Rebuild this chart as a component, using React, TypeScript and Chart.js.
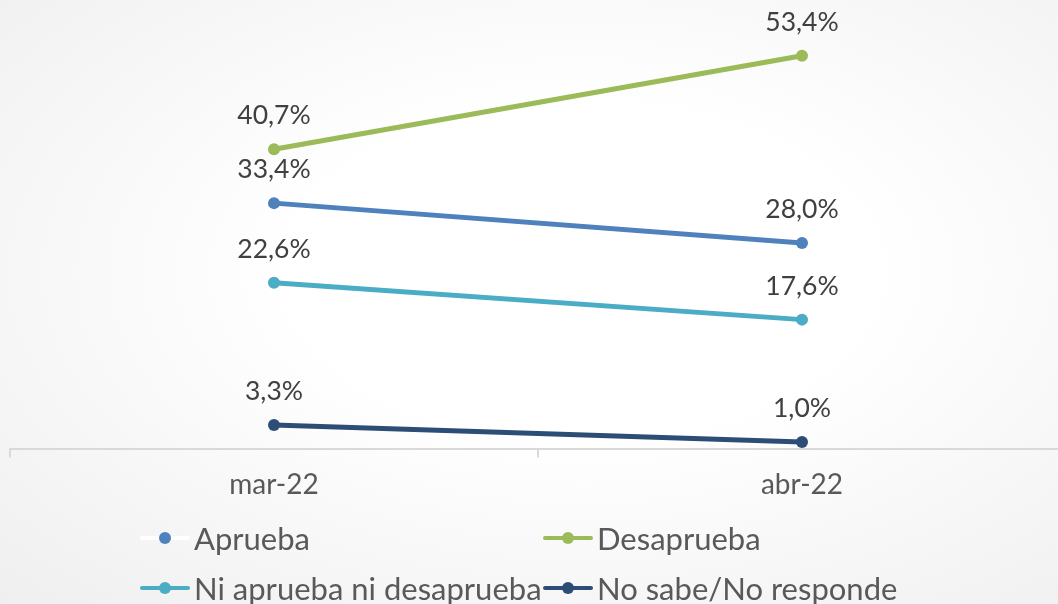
import React, { useEffect, useRef } from "react";
import { Chart, registerables } from "chart.js";

Chart.register(...registerables);

const categories = ["mar-22", "abr-22"];
const aprueba = [33.4, 28.0];
const desaprueba = [40.7, 53.4];
const niNi = [22.6, 17.6];
const noSabe = [3.3, 1.0];

const seriesNames = ["Aprueba", "Desaprueba", "Ni aprueba ni desaprueba", "No sabe/No responde"];
const seriesColors = ["#4F81BD", "#9BBB59", "#4BACC6", "#2C4D75"];
const legendLineColors = ["#FFFFFF", "#9BBB59", "#4BACC6", "#2C4D75"];

const FONT = "Lato, 'Open Sans', sans-serif";

const valueLabels = {
  id: "valueLabels",
  afterDatasetsDraw(chart: any) {
    const ctx = chart.ctx;
    ctx.save();
    ctx.font = `26.5px ${FONT}`;
    ctx.fillStyle = "#404040";
    ctx.textAlign = "center";
    ctx.textBaseline = "alphabetic";
    chart.data.datasets.forEach((ds: any, i: number) => {
      const meta = chart.getDatasetMeta(i);
      meta.data.forEach((pt: any, j: number) => {
        const v = ds.data[j] as number;
        const txt = v.toFixed(1).replace(".", ",") + "%";
        ctx.fillText(txt, pt.x, pt.y - 25);
      });
    });
    ctx.restore();
  },
};

function LegendItem({ idx, left, top }: { idx: number; left: number; top: number }) {
  return (
    <div style={{ position: "absolute", left, top: top - 20, height: 40, display: "flex", alignItems: "center" }}>
      <div style={{ position: "relative", width: 50, height: 40 }}>
        <div
          style={{
            position: "absolute",
            left: 0,
            top: 18,
            width: 50,
            height: 4,
            borderRadius: 2,
            background: legendLineColors[idx],
          }}
        />
        <div
          style={{
            position: "absolute",
            left: 19,
            top: 14,
            width: 12,
            height: 12,
            borderRadius: 6,
            background: seriesColors[idx],
          }}
        />
      </div>
      <span
        style={{
          marginLeft: 4,
          fontFamily: FONT,
          fontSize: 31,
          color: "#595959",
          whiteSpace: "nowrap",
          lineHeight: "40px",
        }}
      >
        {seriesNames[idx]}
      </span>
    </div>
  );
}

export default function App() {
  const canvasRef = useRef<HTMLCanvasElement | null>(null);

  useEffect(() => {
    const canvas = canvasRef.current;
    if (!canvas) return;
    const values = [aprueba, desaprueba, niNi, noSabe];
    const chart = new Chart(canvas, {
      type: "line",
      data: {
        labels: categories,
        datasets: values.map((d, i) => ({
          label: seriesNames[i],
          data: d,
          borderColor: seriesColors[i],
          backgroundColor: seriesColors[i],
          pointBackgroundColor: seriesColors[i],
          pointBorderColor: seriesColors[i],
          borderWidth: 5,
          pointRadius: 6,
          pointBorderWidth: 0,
          borderCapStyle: "round" as const,
          tension: 0,
          fill: false,
        })),
      },
      options: {
        responsive: false,
        animation: false,
        layout: { padding: { left: 10, right: 0, top: 7, bottom: 91 } },
        plugins: {
          legend: { display: false },
          tooltip: { enabled: false },
        },
        scales: {
          x: {
            type: "category",
            offset: true,
            border: { display: true, color: "#D9D9D9", width: 2 },
            grid: {
              offset: true,
              drawOnChartArea: false,
              drawTicks: true,
              tickLength: 8,
              color: "#D9D9D9",
              lineWidth: 2,
            },
            ticks: {
              font: { family: FONT, size: 28 },
              color: "#595959",
              padding: 11,
            },
          },
          y: {
            display: false,
            min: 0,
            max: 60,
          },
        },
      },
      plugins: [valueLabels],
    });
    return () => chart.destroy();
  }, []);

  return (
    <div
      style={{
        position: "fixed",
        left: 0,
        top: 0,
        width: 1058,
        height: 604,
        overflow: "hidden",
        background: "radial-gradient(ellipse at 55% 45%, #FFFFFF 0%, #FFFFFF 35%, #EFEFEF 100%)",
      }}
    >
      <canvas ref={canvasRef} width={1072} height={604} style={{ position: "absolute", left: 0, top: 0 }} />
      <LegendItem idx={0} left={140} top={538} />
      <LegendItem idx={1} left={543} top={538} />
      <LegendItem idx={2} left={140} top={588} />
      <LegendItem idx={3} left={543} top={588} />
    </div>
  );
}
